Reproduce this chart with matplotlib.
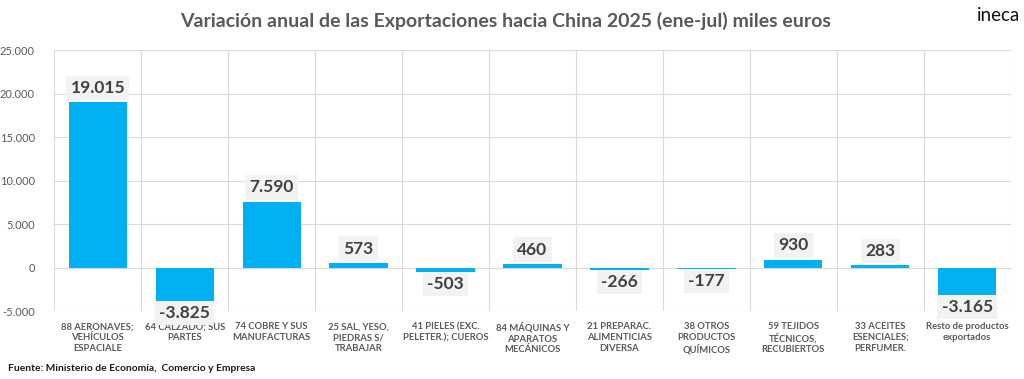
import matplotlib
matplotlib.use("Agg")
import matplotlib.pyplot as plt
from matplotlib.ticker import FuncFormatter

categories = [
    "88 AERONAVES;\nVEHÍCULOS\nESPACIALE",
    "64 CALZADO; SUS\nPARTES",
    "74 COBRE Y SUS\nMANUFACTURAS",
    "25 SAL, YESO,\nPIEDRAS S/\nTRABAJAR",
    "41 PIELES (EXC.\nPELETER.); CUEROS",
    "84 MÁQUINAS Y\nAPARATOS\nMECÁNICOS",
    "21 PREPARAC.\nALIMENTICIAS\nDIVERSA",
    "38 OTROS\nPRODUCTOS\nQUÍMICOS",
    "59 TEJIDOS\nTÉCNICOS,\nRECUBIERTOS",
    "33 ACEITES\nESENCIALES;\nPERFUMER.",
    "Resto de productos\nexportados",
]
values = [19015, -3825, 7590, 573, -503, 460, -266, -177, 930, 283, -3165]
yticks = [-5000, 0, 5000, 10000, 15000, 20000, 25000]

plt.rcParams['font.family'] = ['Lato', 'DejaVu Sans']

fig = plt.figure(figsize=(10.24, 3.79), dpi=100)
ax = fig.add_axes([0.053, 0.179, 0.934, 0.689])

x = list(range(len(values)))
ax.bar(x, values, width=0.67, color="#00b0f0", zorder=3)

ax.set_xlim(-0.5, len(values) - 0.5)
ax.set_ylim(-5000, 25000)
ax.set_yticks(yticks)
ax.yaxis.set_major_formatter(FuncFormatter(lambda v, p: f"{int(v):,}".replace(",", ".")))
ax.tick_params(axis='y', labelsize=8, colors="#595959", length=0, pad=14)
ax.set_xticks(x)
ax.set_xticklabels(categories, fontsize=6.8, color="#595959", fontweight='bold', linespacing=1.25)
ax.tick_params(axis='x', length=0, pad=8)

# grid
for v in yticks:
    ax.axhline(v, color="#d9d9d9", lw=0.8, zorder=1)
for i in range(len(values) + 1):
    ax.axvline(i - 0.5, color="#d9d9d9", lw=0.8, zorder=1)
for s in ax.spines.values():
    s.set_visible(False)

for xi, v in zip(x, values):
    lbl = f"{v:,}".replace(",", ".")
    if v >= 0:
        ax.text(xi, v + 700, lbl, ha='center', va='bottom', fontsize=12.5, fontweight='bold',
                color="#404040", zorder=4,
                bbox=dict(boxstyle='square,pad=0.25', fc="#f2f2f2", ec='none'))
    else:
        ax.text(xi, v - 450, lbl, ha='center', va='top', fontsize=12.5, fontweight='bold',
                color="#404040", zorder=4,
                bbox=dict(boxstyle='square,pad=0.25', fc="#f2f2f2", ec='none'))

fig.text(0.494, 0.945, "Variación anual de las Exportaciones hacia China 2025 (ene-jul) miles euros",
         ha='center', va='center', fontsize=14, fontweight='bold', color="#595959")
fig.text(0.975, 0.958, "ineca", ha='center', va='center', fontsize=13.5, color="#111111")
fig.text(0.008, 0.028, "Fuente: Ministerio de Economía,  Comercio y Empresa", ha='left', va='center',
         fontsize=7.4, fontweight='bold', color="#1a1a1a")

fig.savefig("out.png", dpi=100)
